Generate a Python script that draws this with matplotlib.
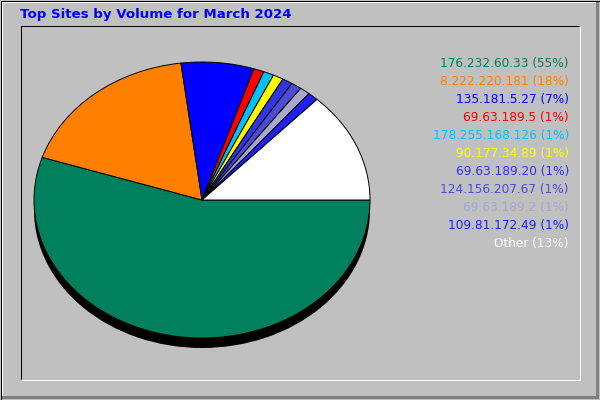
import matplotlib
matplotlib.use("Agg")
import matplotlib.pyplot as plt

# data
sites = ["176.232.60.33", "8.222.220.181", "135.181.5.27", "69.63.189.5",
         "178.255.168.126", "90.177.34.89", "69.63.189.20", "124.156.207.67",
         "69.63.189.2", "109.81.172.49", "Other"]
percents = [55, 18, 7, 1, 1, 1, 1, 1, 1, 1, 13]
colors = ["#00805c", "#ff8000", "#0000ff", "#ff0000", "#00c0ff", "#ffff00",
          "#3434e6", "#4c4cd6", "#a8a8cc", "#2020f0", "#ffffff"]
title = "Top Sites by Volume for March 2024"

W, H = 600, 400
fig = plt.figure(figsize=(6, 4), dpi=100, facecolor="#c0c0c0")

# frame (pixel coordinates)
bg = fig.add_axes([0, 0, 1, 1])
bg.set_xlim(0, W)
bg.set_ylim(H, 0)
bg.axis("off")
crisp = dict(antialiased=False, solid_capstyle="projecting")
bg.plot([1.5, 1.5, W - 3], [H - 3, 1.5, 1.5], color="white", lw=1.44, **crisp)
bg.plot([2, W - 3.5, W - 3.5], [H - 3.5, H - 3.5, 2], color="#808080", lw=2.16, **crisp)
bg.plot([0.5, 0.5, W - 0.5], [H, 0.5, 0.5], color="black", lw=0.72, **crisp)
bg.plot([0, W - 0.5, W - 0.5], [H - 0.5, H - 0.5, 0], color="black", lw=0.72, **crisp)
# inner panel
bg.plot([20.5, 20.5, 579.5], [379.5, 25.5, 25.5], color="black", lw=0.72, **crisp)
bg.plot([20.5, 579.5, 579.5], [379.5, 379.5, 25.5], color="white", lw=0.72, **crisp)

bg.text(20, 14.5, title, color="#0000ff", fontsize=9.6, fontweight="bold",
        ha="left", va="center")

# legend
for i, (s, p, c) in enumerate(zip(sites, percents, colors)):
    bg.text(569, 63 + 18 * i, f"{s} ({p}%)", color=c, fontsize=8.7,
            ha="right", va="center")

# pie: centre (202,200), rx 168, ry 138, depth 10
cx, cy, rx, ry, depth = 202, 200, 168, 138, 10
ylo = -1 - (depth + 3) / ry
ax = fig.add_axes([(cx - rx) / W, (H - cy + ylo * ry) / H,
                   2 * rx / W, (1 - ylo) * ry / H])
ax.pie([1], colors=["black"], center=(0, -depth / ry), radius=1,
       wedgeprops=dict(linewidth=0))
ax.pie(percents, colors=colors, startangle=0, counterclock=False, radius=1,
       wedgeprops=dict(edgecolor="black", linewidth=0.7))
ax.axis("off")
ax.set_aspect("auto")
ax.set_xlim(-1, 1)
ax.set_ylim(ylo, 1)

fig.savefig("out.png", dpi=100, facecolor=fig.get_facecolor())
